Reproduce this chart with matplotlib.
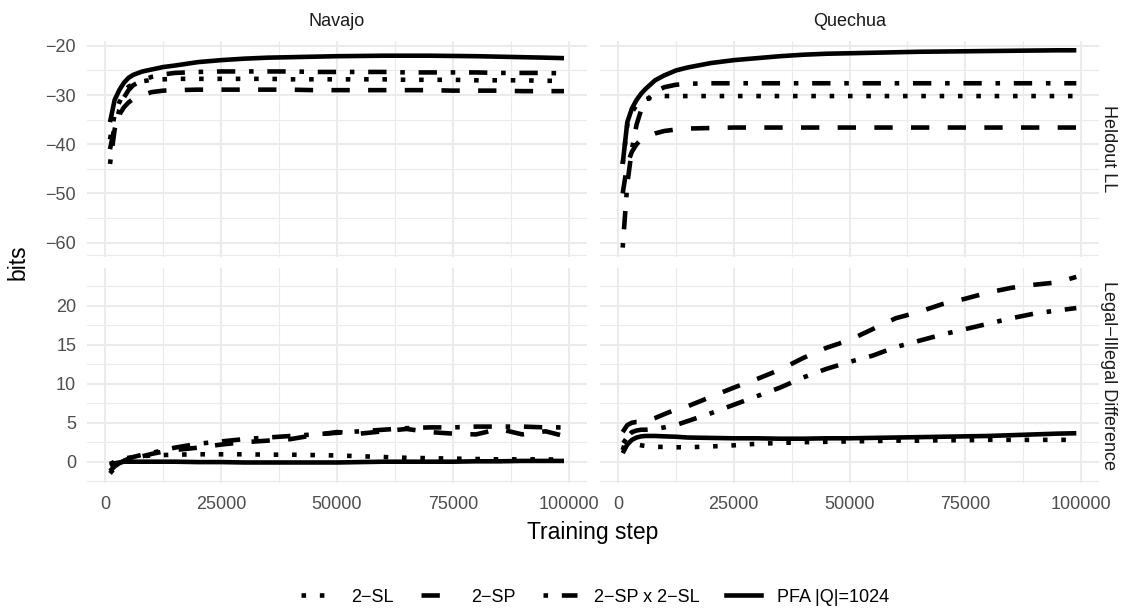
import matplotlib
matplotlib.use("Agg")
import matplotlib.pyplot as plt
from matplotlib.lines import Line2D

plt.rcParams['font.family'] = ['Liberation Sans', 'DejaVu Sans']

# training steps (shared by all series)
steps = [1000, 2000, 3000, 4000, 5000, 6000, 8000, 10000, 12500, 15000, 20000,
         25000, 30000, 35000, 40000, 45000, 50000, 55000, 60000, 65000, 70000,
         75000, 80000, 85000, 90000, 95000, 99000]

languages = ['Navajo', 'Quechua']
metrics = ['Heldout LL', 'Legal\u2212Illegal Difference']
models = ['2\u2212SL', '2\u2212SP', '2\u2212SP x 2\u2212SL', 'PFA |Q|=1024']

# Heldout LL, Navajo
nav_ll_sl = [-39, -34, -31.5, -29.5, -28.3, -27.8, -27.2, -26.9, -26.8, -26.7, -26.7,
             -26.7, -26.7, -26.7, -26.8, -26.8, -26.8, -26.8, -26.8, -26.9, -26.9,
             -26.9, -27.0, -27.0, -27.0, -27.1, -27.1]
nav_ll_sp = [-41, -36.5, -34, -32.5, -31.5, -30.8, -30, -29.4, -29.1, -29.0, -28.9,
             -28.9, -28.9, -28.9, -28.9, -29.0, -29.0, -29.0, -29.0, -29.0, -29.0,
             -29.1, -29.1, -29.1, -29.2, -29.2, -29.2]
nav_ll_spsl = [-44, -37, -33, -30.5, -29, -28, -27, -26.3, -25.8, -25.5, -25.3,
               -25.2, -25.2, -25.2, -25.2, -25.3, -25.3, -25.3, -25.3, -25.4, -25.4,
               -25.4, -25.4, -25.5, -25.5, -25.5, -25.6]
nav_ll_pfa = [-35.5, -31, -29, -27.5, -26.5, -25.9, -25.2, -24.8, -24.3, -24.0, -23.3,
              -22.9, -22.6, -22.4, -22.3, -22.2, -22.1, -22.05, -22.0, -22.0, -22.0,
              -22.05, -22.1, -22.2, -22.3, -22.4, -22.5]

# Heldout LL, Quechua
que_ll_sl = [-44, -36, -33.5, -32, -31.2, -30.8, -30.4, -30.2, -30.2, -30.2, -30.2,
             -30.2, -30.2, -30.2, -30.2, -30.2, -30.2, -30.2, -30.2, -30.2, -30.2,
             -30.2, -30.2, -30.2, -30.2, -30.2, -30.2]
que_ll_sp = [-50, -44, -41.5, -40, -39, -38.5, -37.8, -37.3, -37.0, -36.8, -36.7,
             -36.6, -36.6, -36.6, -36.6, -36.6, -36.6, -36.6, -36.6, -36.6, -36.6,
             -36.6, -36.6, -36.6, -36.6, -36.6, -36.6]
que_ll_spsl = [-61, -48, -41, -36, -33, -31.3, -29.3, -28.4, -27.9, -27.7, -27.6,
               -27.6, -27.6, -27.6, -27.6, -27.6, -27.6, -27.6, -27.6, -27.6, -27.6,
               -27.6, -27.6, -27.6, -27.6, -27.6, -27.6]
que_ll_pfa = [-44, -35.5, -32.7, -31, -29.7, -28.7, -27, -26, -25, -24.4, -23.5,
              -22.9, -22.5, -22.1, -21.8, -21.6, -21.5, -21.4, -21.3, -21.2, -21.15,
              -21.1, -21.05, -21.0, -20.95, -20.9, -20.9]

# Legal-Illegal difference, Navajo
nav_d_sl = [-0.3, 0.0, 0.2, 0.4, 0.5, 0.6, 0.7, 0.8, 0.85, 0.9, 0.95,
            0.95, 0.95, 0.9, 0.9, 0.85, 0.8, 0.7, 0.6, 0.5, 0.45,
            0.4, 0.35, 0.3, 0.3, 0.3, 0.25]
nav_d_sp = [-1.2, -0.6, -0.2, 0.1, 0.3, 0.4, 0.7, 1.0, 1.3, 1.5, 1.8,
            2.2, 2.5, 2.7, 2.9, 3.4, 3.8, 3.6, 3.9, 4.2, 3.8,
            3.6, 3.5, 4.2, 3.5, 3.9, 3.3]
nav_d_spsl = [-1.5, -0.8, -0.3, 0.1, 0.4, 0.6, 0.9, 1.1, 1.5, 1.8, 2.3,
              2.6, 2.9, 3.1, 3.3, 3.5, 3.7, 3.9, 4.1, 4.3, 4.4,
              4.4, 4.5, 4.5, 4.5, 4.4, 4.4]
nav_d_pfa = [-0.5, -0.2, -0.1, 0.0, 0.0, 0.0, 0.0, 0.0, 0.0, 0.0, -0.05,
             -0.05, -0.1, -0.1, -0.1, -0.1, -0.1, -0.05, 0.0, 0.0, 0.0,
             0.0, 0.05, 0.05, 0.1, 0.1, 0.1]

# Legal-Illegal difference, Quechua
que_d_sl = [2.8, 2.4, 2.3, 2.2, 2.1, 2.0, 1.9, 1.9, 1.85, 1.85, 1.95,
            2.1, 2.3, 2.4, 2.5, 2.55, 2.6, 2.65, 2.7, 2.7, 2.75,
            2.75, 2.8, 2.8, 2.8, 2.8, 2.8]
que_d_sp = [3.8, 4.7, 5.0, 5.1, 5.1, 5.2, 5.6, 6.1, 6.7, 7.1, 8.3,
            9.5, 10.6, 11.8, 13.3, 14.6, 15.6, 17.0, 18.4, 19.2, 20.2,
            20.9, 21.7, 22.3, 22.7, 23.0, 23.7]
que_d_spsl = [1.5, 3.2, 3.8, 4.0, 4.1, 4.1, 4.2, 4.4, 4.7, 5.2, 6.2,
              7.3, 8.4, 9.5, 10.8, 11.9, 12.8, 13.6, 14.7, 15.5, 16.3,
              17.0, 17.7, 18.4, 19.0, 19.4, 19.7]
que_d_pfa = [1.1, 2.2, 2.8, 3.1, 3.25, 3.3, 3.3, 3.25, 3.2, 3.1, 3.05,
             3.0, 3.0, 2.95, 2.95, 3.0, 3.0, 3.05, 3.1, 3.15, 3.2,
             3.25, 3.3, 3.4, 3.5, 3.6, 3.65]

panels = {
    (0, 0): [nav_ll_sl, nav_ll_sp, nav_ll_spsl, nav_ll_pfa],
    (0, 1): [que_ll_sl, que_ll_sp, que_ll_spsl, que_ll_pfa],
    (1, 0): [nav_d_sl, nav_d_sp, nav_d_spsl, nav_d_pfa],
    (1, 1): [que_d_sl, que_d_sp, que_d_spsl, que_d_pfa],
}

linestyles = [(0, (1, 3)), (0, (4, 4)), (0, (1, 3, 4, 3)), '-']
LW = 3.3

W, H = 1128, 611
fig = plt.figure(figsize=(W / 100, H / 100), dpi=100)


def px(x0, y0, x1, y1):
    # pixel box -> figure fraction rect
    return [x0 / W, 1 - y1 / H, (x1 - x0) / W, (y1 - y0) / H]


col_x = [(87.3, 586.7), (600, 1099)]
row_y = [(40.7, 256.7), (268.3, 483.3)]
ylims = [(-62.85, -18.95), (-2.77, 24.8)]
yticks = [[-60, -50, -40, -30, -20], [0, 5, 10, 15, 20]]
yminor = [[-62.5, -55, -45, -35, -25], [-2.5, 2.5, 7.5, 12.5, 17.5, 22.5]]
xticks = [0, 25000, 50000, 75000, 100000]
xminor = [12500, 37500, 62500, 87500]

for (r, c), series in panels.items():
    ax = fig.add_axes(px(col_x[c][0], row_y[r][0], col_x[c][1], row_y[r][1]))
    for vals, ls in zip(series, linestyles):
        ax.plot(steps, vals, color='black', lw=LW, linestyle=ls,
                dash_capstyle='butt', solid_capstyle='butt')
    ax.set_xlim(-3900, 103900)
    ax.set_ylim(*ylims[r])
    ax.set_xticks(xticks)
    ax.set_xticks(xminor, minor=True)
    ax.set_yticks(yticks[r])
    ax.set_yticks(yminor[r], minor=True)
    ax.grid(which='major', color='#EBEBEB', lw=1.5)
    ax.grid(which='minor', color='#EBEBEB', lw=0.8)
    ax.set_axisbelow(True)
    for s in ax.spines.values():
        s.set_visible(False)
    ax.tick_params(which='both', length=0, labelsize=13, labelcolor='#4D4D4D')
    ax.tick_params(axis='y', pad=8)
    ax.tick_params(axis='x', pad=9)
    if c == 1:
        ax.tick_params(axis='y', labelleft=False)
    if r == 0:
        ax.tick_params(axis='x', labelbottom=False)

# strip labels
for c, name in enumerate(languages):
    xc = (col_x[c][0] + col_x[c][1]) / 2
    fig.text(xc / W, 1 - 21 / H, name, ha='center', va='center',
             fontsize=13, color='#1A1A1A')
for r, name in enumerate(metrics):
    yc = (row_y[r][0] + row_y[r][1]) / 2
    fig.text(1108 / W, 1 - yc / H, name, ha='center', va='center',
             rotation=270, fontsize=13, color='#1A1A1A')

fig.text(18 / W, 1 - 262 / H, 'bits', ha='center', va='center',
         rotation=90, fontsize=16.5)
fig.text(593 / W, 1 - 533 / H, 'Training step', ha='center', va='center',
         fontsize=16.5)

handles = [Line2D([], [], color='black', lw=LW, linestyle=ls) for ls in linestyles]
fig.legend(handles, models, loc='center', bbox_to_anchor=(595 / W, 1 - 597 / H),
           ncol=4, frameon=False, fontsize=13, handlelength=1.9,
           handletextpad=0.9, columnspacing=1.5)

fig.savefig('out.png', dpi=100)
